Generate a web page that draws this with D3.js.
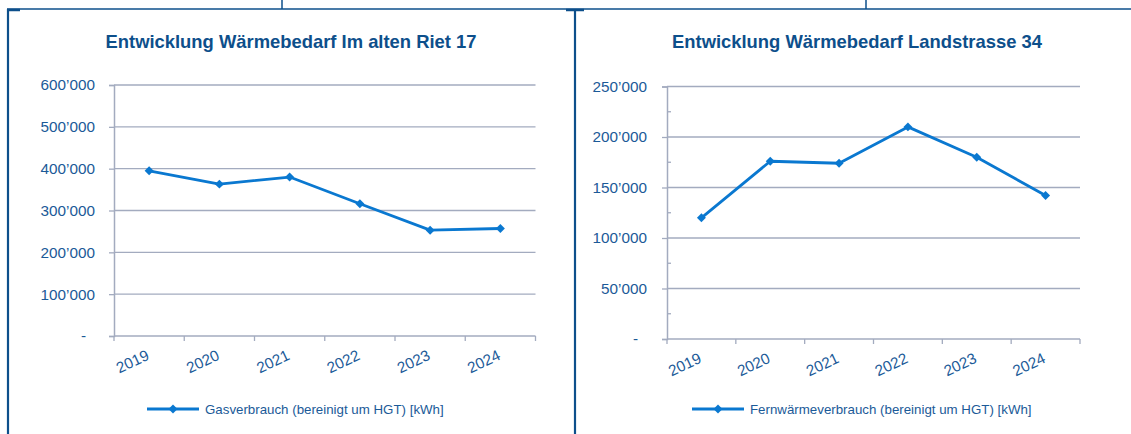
<!DOCTYPE html>
<html>
<head>
<meta charset="utf-8">
<script src="https://cdn.jsdelivr.net/npm/d3@7"></script>
<style>
  body { margin: 0; background: #fff; }
  svg { display: block; font-family: "Liberation Sans", Arial, sans-serif; }
</style>
</head>
<body>
<div id="chart"></div>
<script>
// values
var years = ["2019", "2020", "2021", "2022", "2023", "2024"];
var gasValues = [395000, 363000, 380000, 316000, 253000, 257000];
var fernValues = [120000, 176000, 174000, 210000, 180000, 142000];
var gasTicks = [0, 100000, 200000, 300000, 400000, 500000, 600000];
var fernTicks = [0, 50000, 100000, 150000, 200000, 250000];
var fernMinorTicks = [25000, 75000, 125000, 175000, 225000];
var titles = ["Entwicklung Wärmebedarf Im alten Riet 17", "Entwicklung Wärmebedarf Landstrasse 34"];
var legendLabels = ["Gasverbrauch (bereinigt um HGT) [kWh]", "Fernwärmeverbrauch (bereinigt um HGT) [kWh]"];

var W = 1131, H = 434;
var frameColor = "#0d4f8b", textColor = "#1b5a98", gridColor = "#a3abbf", lineColor = "#0a78d0";

var svg = d3.select("#chart").append("svg")
    .attr("width", W)
    .attr("height", H);

// frames around the two charts
var frame = svg.append("g").attr("stroke", frameColor).attr("fill", "none");
frame.append("line").attr("x1", 7).attr("x2", W).attr("y1", 9).attr("y2", 9).attr("stroke-width", 1.5);
frame.append("line").attr("x1", 282).attr("x2", 282).attr("y1", 0).attr("y2", 9).attr("stroke-width", 1.5);
frame.append("line").attr("x1", 866).attr("x2", 866).attr("y1", 0).attr("y2", 9).attr("stroke-width", 1.5);
frame.append("line").attr("x1", 8).attr("x2", 8).attr("y1", 9).attr("y2", H).attr("stroke-width", 2.2);
frame.append("line").attr("x1", 575).attr("x2", 575).attr("y1", 9).attr("y2", H).attr("stroke-width", 2.2);
frame.append("line").attr("x1", 7).attr("x2", 20).attr("y1", 10).attr("y2", 10).attr("stroke-width", 2.5);
frame.append("line").attr("x1", 566).attr("x2", 584).attr("y1", 10).attr("y2", 10).attr("stroke-width", 2.5);

var fmt = function(d) {
  if (d === 0) return "-";
  return d3.format(",")(d).replace(/,/g, "\u2019");
};

function drawChart(cfg) {
  var g = svg.append("g");

  var x = d3.scaleBand().domain(years).range([cfg.x0, cfg.x1]);
  var y = d3.scaleLinear().domain([0, d3.max(cfg.ticks)]).range([cfg.yBottom, cfg.yTop]);

  g.append("text")
    .attr("x", cfg.titleX)
    .attr("y", 48)
    .attr("text-anchor", "middle")
    .attr("font-size", 18.4)
    .attr("font-weight", "bold")
    .attr("fill", frameColor)
    .text(cfg.title);

  // gridlines
  g.selectAll(".grid")
    .data(cfg.ticks.filter(function(d) { return d > 0; }))
    .enter().append("line")
      .attr("x1", cfg.x0).attr("x2", cfg.x1)
      .attr("y1", function(d) { return y(d); })
      .attr("y2", function(d) { return y(d); })
      .attr("stroke", gridColor)
      .attr("stroke-width", 1.3);

  // y axis
  var yAxis = g.append("g")
    .attr("transform", "translate(" + cfg.x0 + ",0)")
    .call(d3.axisLeft(y).tickValues(cfg.ticks).tickSize(5).tickPadding(cfg.pad).tickFormat(fmt));
  yAxis.select(".domain").attr("stroke", gridColor).attr("stroke-width", 1.5);
  yAxis.selectAll(".tick line").attr("stroke", gridColor).attr("stroke-width", 1.3);
  yAxis.selectAll(".tick text")
    .attr("fill", textColor)
    .attr("font-size", 15.3)
    .attr("dx", function(d) { return d === 0 ? -9 : 0; });

  if (cfg.minor) {
    g.selectAll(".minor")
      .data(cfg.minor)
      .enter().append("line")
        .attr("x1", cfg.x0).attr("x2", cfg.x0 + 4)
        .attr("y1", function(d) { return y(d); })
        .attr("y2", function(d) { return y(d); })
        .attr("stroke", gridColor)
        .attr("stroke-width", 1.3);
  }

  // x axis
  g.append("line")
    .attr("x1", cfg.x0).attr("x2", cfg.x1)
    .attr("y1", cfg.yBottom).attr("y2", cfg.yBottom)
    .attr("stroke", gridColor)
    .attr("stroke-width", 1.5);
  var edges = years.map(function(d) { return x(d); }).concat([cfg.x1]);
  g.selectAll(".xtick")
    .data(edges)
    .enter().append("line")
      .attr("x1", function(d) { return d; })
      .attr("x2", function(d) { return d; })
      .attr("y1", cfg.yBottom)
      .attr("y2", cfg.yBottom + 5)
      .attr("stroke", gridColor)
      .attr("stroke-width", 1.3);
  g.selectAll(".xlab")
    .data(years)
    .enter().append("text")
      .attr("transform", function(d) {
        return "translate(" + (x(d) + x.bandwidth() / 2 + 1) + "," + (cfg.yBottom + 23) + ") rotate(-25)";
      })
      .attr("text-anchor", "end")
      .attr("font-size", 15.3)
      .attr("fill", textColor)
      .text(function(d) { return d; });

  // series
  var line = d3.line()
    .x(function(d, i) { return x(years[i]) + x.bandwidth() / 2; })
    .y(function(d) { return y(d); });
  g.append("path")
    .datum(cfg.values)
    .attr("d", line)
    .attr("fill", "none")
    .attr("stroke", lineColor)
    .attr("stroke-width", 2.8)
    .attr("stroke-linejoin", "round");

  var marker = d3.symbol().type(d3.symbolSquare).size(40);
  g.selectAll(".pt")
    .data(cfg.values)
    .enter().append("path")
      .attr("d", marker)
      .attr("transform", function(d, i) {
        return "translate(" + (x(years[i]) + x.bandwidth() / 2) + "," + y(d) + ") rotate(45)";
      })
      .attr("fill", lineColor);

  // legend
  var lg = g.append("g").attr("transform", "translate(" + cfg.legendX + ",409)");
  lg.append("line").attr("x1", 0).attr("x2", 52).attr("y1", 0).attr("y2", 0)
    .attr("stroke", lineColor).attr("stroke-width", 2.8);
  lg.append("path").attr("d", marker).attr("transform", "translate(26,0) rotate(45)").attr("fill", lineColor);
  lg.append("text")
    .attr("x", 58)
    .attr("y", 4.5)
    .attr("font-size", 13.3)
    .attr("fill", textColor)
    .text(cfg.legend);
}

drawChart({
  title: titles[0], legend: legendLabels[0], values: gasValues, ticks: gasTicks,
  x0: 114, x1: 535.5, yTop: 85, yBottom: 336, pad: 14, titleX: 291, legendX: 147
});
drawChart({
  title: titles[1], legend: legendLabels[1], values: fernValues, ticks: fernTicks, minor: fernMinorTicks,
  x0: 667, x1: 1080, yTop: 86.5, yBottom: 339, pad: 15, titleX: 857, legendX: 692
});
</script>
</body>
</html>
